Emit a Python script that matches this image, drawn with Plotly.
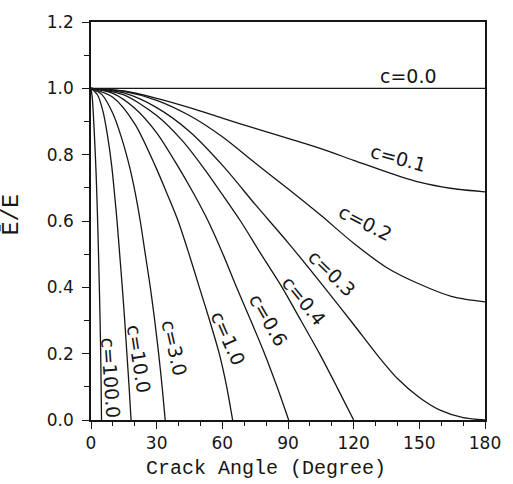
import plotly.graph_objects as go

# ---- data ----
theta_c00 = [0, 180]
e_c00 = [1.0, 1.0]

theta_c01 = [0, 15, 30, 45, 60, 75, 90, 105, 120, 135, 150, 165, 180]
e_c01 = [1.0, 0.992, 0.97, 0.942, 0.91, 0.879, 0.849, 0.818, 0.783, 0.748, 0.717, 0.698, 0.688]

theta_c02 = [0, 15, 30, 45, 60, 75, 90, 105, 120, 135, 150, 165, 180]
e_c02 = [1.0, 0.991, 0.964, 0.918, 0.854, 0.775, 0.697, 0.617, 0.533, 0.46, 0.41, 0.372, 0.356]

theta_c03 = [0, 15, 30, 45, 60.6, 75, 90, 106.6, 120, 130.3, 140, 150, 160, 170, 180]
e_c03 = [1.0, 0.986, 0.942, 0.87, 0.764, 0.65, 0.535, 0.4, 0.288, 0.2, 0.125, 0.068, 0.028, 0.007, 0.0]

theta_c04 = [0, 15, 30, 42, 51, 60, 68.3, 77.7, 87.3, 95.9, 104.4, 112.3, 120]
e_c04 = [1.0, 0.98, 0.918, 0.84, 0.764, 0.68, 0.6, 0.5, 0.4, 0.3, 0.2, 0.1, 0.0]

theta_c06 = [0, 10, 20, 30, 39.8, 46.7, 53.5, 60.3, 66.5, 73.0, 79.3, 85.0, 90.3]
e_c06 = [1.0, 0.985, 0.94, 0.866, 0.764, 0.685, 0.6, 0.5, 0.4, 0.3, 0.2, 0.1, 0.0]

theta_c1 = [0, 10, 20, 29.5, 34.7, 39.8, 44.8, 49.5, 54.2, 58.6, 62.0, 64.7]
e_c1 = [1.0, 0.973, 0.893, 0.764, 0.683, 0.6, 0.5, 0.4, 0.3, 0.2, 0.1, 0.0]

theta_c3 = [0, 5, 10, 14, 17.6, 20.2, 22.5, 24.8, 27.1, 29.1, 30.9, 32.5, 33.9]
e_c3 = [1.0, 0.981, 0.924, 0.85, 0.764, 0.685, 0.6, 0.5, 0.4, 0.3, 0.2, 0.1, 0.0]

theta_c10 = [0, 3, 5.5, 7.6, 9.5, 10.7, 11.9, 13.1, 14.3, 15.4, 16.4, 17.4, 18.3]
e_c10 = [1.0, 0.98, 0.93, 0.855, 0.764, 0.685, 0.6, 0.5, 0.4, 0.3, 0.2, 0.1, 0.0]

theta_c100 = [0, 0.6, 1.2, 1.8, 2.35, 2.85, 3.3, 3.7, 4.05, 4.35, 4.6, 4.8]
e_c100 = [1.0, 0.97, 0.905, 0.825, 0.74, 0.64, 0.535, 0.43, 0.33, 0.23, 0.12, 0.0]

series = [
    (theta_c00, e_c00), (theta_c01, e_c01), (theta_c02, e_c02), (theta_c03, e_c03),
    (theta_c04, e_c04), (theta_c06, e_c06), (theta_c1, e_c1), (theta_c3, e_c3),
    (theta_c10, e_c10), (theta_c100, e_c100),
]

label_texts = ["c=0.0", "c=0.1", "c=0.2", "c=0.3", "c=0.4", "c=0.6", "c=1.0", "c=3.0", "c=10.0", "c=100.0"]
label_x = [145.0, 140.5, 125.6, 110.1, 97.5, 81.1, 62.6, 38.1, 21.8, 9.2]
label_y = [1.037, 0.79, 0.593, 0.444, 0.36, 0.301, 0.247, 0.217, 0.183, 0.128]
label_angle = [0, 15, 27, 44, 51, 60, 66, 77, 81, 86]

x_ticks = [0, 30, 60, 90, 120, 150, 180]
y_ticks = [0.0, 0.2, 0.4, 0.6, 0.8, 1.0, 1.2]
x_title = "Crack Angle (Degree)"
y_title = "Ē/E"

INK = "#161616"

fig = go.Figure()
for th, ev in series:
    fig.add_trace(go.Scatter(
        x=th, y=ev, mode="lines",
        line=dict(color=INK, width=1.3, shape="spline", smoothing=0.8),
        showlegend=False, hoverinfo="skip",
    ))

for t, lx, ly, ang in zip(label_texts, label_x, label_y, label_angle):
    fig.add_annotation(
        x=lx, y=ly, xref="x", yref="y", text=t, showarrow=False,
        textangle=ang, xanchor="center", yanchor="middle",
        font=dict(family="DejaVu Sans", size=19, color=INK),
    )

fig.add_annotation(
    x=0.445, y=-0.123, xref="paper", yref="paper", text=x_title, showarrow=False,
    xanchor="center", yanchor="middle",
    font=dict(family="Liberation Mono", size=20, color=INK),
)
fig.add_annotation(
    x=-0.2, y=0.515, xref="paper", yref="paper", text=y_title, showarrow=False,
    textangle=-90, xanchor="center", yanchor="middle",
    font=dict(family="Liberation Mono", size=23, color=INK),
)

axis_common = dict(
    showline=True, linecolor=INK, linewidth=1.5, mirror=True,
    showgrid=False, zeroline=False, ticks="outside", tickcolor=INK,
    tickwidth=1.3, ticklen=7,
    tickfont=dict(family="DejaVu Sans", size=17, color=INK),
)

fig.update_layout(
    width=513, height=484,
    margin=dict(l=91, r=18, t=15, b=64),
    paper_bgcolor="white", plot_bgcolor="white",
    xaxis=dict(range=[0, 180], tickvals=x_ticks,
               minor=dict(dtick=10, ticks="outside", ticklen=4, tickcolor=INK, tickwidth=1.1, showgrid=False),
               **axis_common),
    yaxis=dict(range=[0, 1.2], tickvals=y_ticks, tickformat=".1f",
               minor=dict(dtick=0.1, ticks="outside", ticklen=5, tickcolor=INK, tickwidth=1.1, showgrid=False),
               ticklabelstandoff=5,
               **axis_common),
)

fig.write_html(
    "out.html",
    config={"displayModeBar": False},
    post_script="document.body.style.margin='0';document.body.style.padding='0';document.body.style.overflow='hidden';",
)
